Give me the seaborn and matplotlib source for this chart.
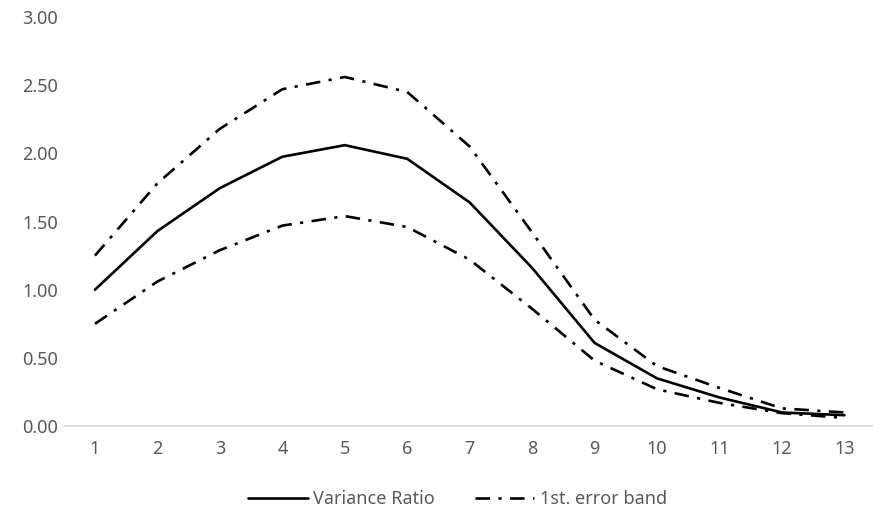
import pandas as pd
import matplotlib.pyplot as plt
import seaborn as sns

# Values
horizon = [1, 2, 3, 4, 5, 6, 7, 8, 9, 10, 11, 12, 13]
variance_ratio = [1.00, 1.43, 1.745, 1.975, 2.06, 1.96, 1.64, 1.16, 0.61, 0.35, 0.21, 0.10, 0.08]
upper_band = [1.25, 1.78, 2.18, 2.47, 2.56, 2.45, 2.05, 1.42, 0.78, 0.44, 0.28, 0.13, 0.10]
lower_band = [0.75, 1.06, 1.29, 1.47, 1.54, 1.46, 1.22, 0.86, 0.48, 0.27, 0.17, 0.095, 0.06]
y_ticks = [0.0, 0.5, 1.0, 1.5, 2.0, 2.5, 3.0]

df = pd.DataFrame({"h": horizon, "vr": variance_ratio, "up": upper_band, "lo": lower_band})

sns.set_style("white")
plt.rcParams["font.family"] = ["Noto Sans", "DejaVu Sans"]

fig = plt.figure(figsize=(8.73, 5.14), dpi=100)
ax = fig.add_axes([0.073, 0.171, 0.93, 0.796])

dashdot = (0, (5.5, 3.2, 1.2, 3.2))
sns.lineplot(data=df, x="h", y="vr", ax=ax, color="black", lw=1.9, label="Variance Ratio")
sns.lineplot(data=df, x="h", y="up", ax=ax, color="black", lw=1.9, linestyle=dashdot,
             label="1st. error band")
sns.lineplot(data=df, x="h", y="lo", ax=ax, color="black", lw=1.9, linestyle=dashdot,
             label="_nolegend_")

ax.set_xlim(0.5, 13.5)
ax.set_ylim(0, 3.0)
ax.set_xticks(horizon)
ax.set_yticks(y_ticks)
ax.set_yticklabels([f"{v:.2f}" for v in y_ticks])
ax.set_xlabel("")
ax.set_ylabel("")
ax.tick_params(axis="both", colors="#595959", labelsize=13, length=0)
ax.tick_params(axis="x", pad=10)
ax.tick_params(axis="y", pad=4)

for side in ["top", "right", "left"]:
    ax.spines[side].set_visible(False)
ax.spines["bottom"].set_color("#d9d9d9")
ax.spines["bottom"].set_linewidth(1.2)
ax.spines["bottom"].set_zorder(0)

leg = ax.legend(loc="lower center", bbox_to_anchor=(0.485, -0.24), ncol=2, frameon=False,
                fontsize=13, handlelength=3.3, columnspacing=2.2, handletextpad=0.3)
for t in leg.get_texts():
    t.set_color("#595959")

fig.savefig("out.png", dpi=100)
